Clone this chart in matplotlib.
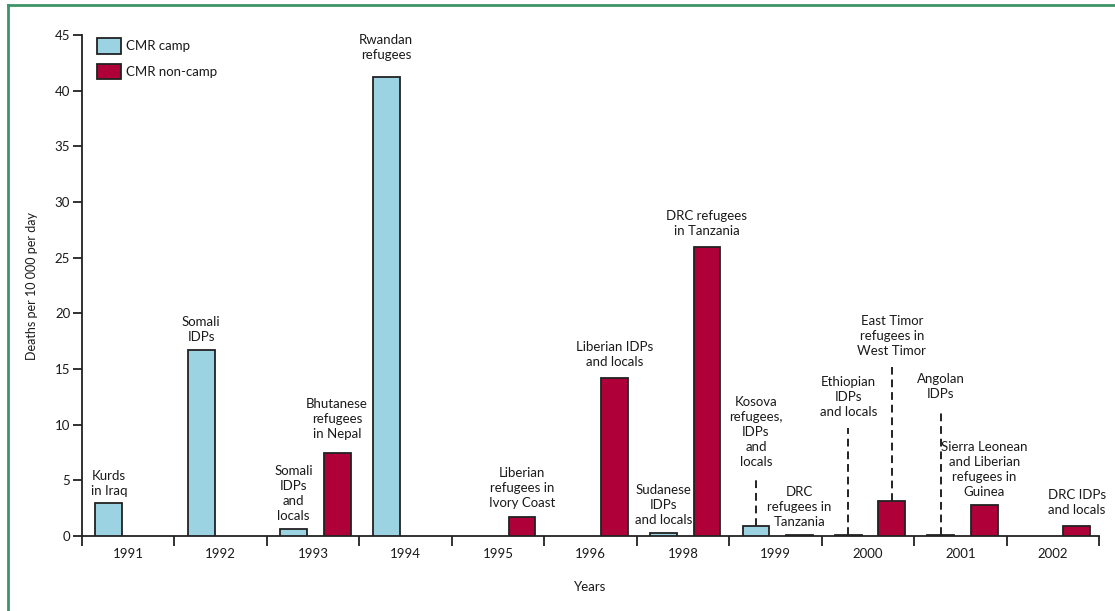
import matplotlib
matplotlib.use("Agg")
import matplotlib.pyplot as plt
from matplotlib.lines import Line2D
import numpy as np

plt.rcParams['font.family'] = ['Lato', 'DejaVu Sans']
plt.rcParams['font.size'] = 9.5

# year groups on the x axis (1997 has no survey)
years = ['1991', '1992', '1993', '1994', '1995', '1996',
         '1998', '1999', '2000', '2001', '2002']
# crude mortality rate, deaths per 10 000 per day (None = no survey)
cmr_camp = [3.0, 16.7, 0.6, 41.2, None, None, 0.3, 0.9, 0.1, 0.1, None]
cmr_noncamp = [None, None, 7.5, None, 1.7, 14.2, 26.0, 0.1, 3.1, 2.8, 0.9]

# population labels: (group, series, text, offset in points or label height)
labels = [
    (0, 'camp', 'Kurds\nin Iraq', 4, None),
    (1, 'camp', 'Somali\nIDPs', 5, None),
    (2, 'camp', 'Somali\nIDPs\nand\nlocals', 5, None),
    (2, 'non', 'Bhutanese\nrefugees\nin Nepal', 9, None),
    (3, 'camp', 'Rwandan\nrefugees', 12, None),
    (4, 'non', 'Liberian\nrefugees in\nIvory Coast', 6, None),
    (5, 'non', 'Liberian IDPs\nand locals', 7, None),
    (6, 'camp', 'Sudanese\nIDPs\nand locals', 5, None),
    (6, 'non', 'DRC refugees\nin Tanzania', 7, None),
    (7, 'camp', 'Kosova\nrefugees,\nIDPs\nand\nlocals', None, 6.1),
    (7, 'non', 'DRC\nrefugees in\nTanzania', 5, None),
    (8, 'camp', 'Ethiopian\nIDPs\nand locals', None, 10.6),
    (8, 'non', 'East Timor\nrefugees in\nWest Timor', None, 16.1),
    (9, 'camp', 'Angolan\nIDPs', None, 12.2),
    (9, 'non', 'Sierra Leonean\nand Liberian\nrefugees in\nGuinea', 5, None),
    (10, 'non', 'DRC IDPs\nand locals', 7, None),
]

camp_color = '#9bd3e3'
noncamp_color = '#b0003a'
edge = '#222222'
text_color = '#1a1a1a'

fig = plt.figure(figsize=(11.15, 6.11), dpi=100)
ax = fig.add_axes([82 / 1115, 1 - 536 / 611, 1017 / 1115, 501 / 611])

idx = np.arange(len(years))
w = 0.29
pos = {'camp': idx + 0.29, 'non': idx + 0.76}
vals = {'camp': cmr_camp, 'non': cmr_noncamp}

for key, col, name in [('camp', camp_color, 'CMR camp'),
                       ('non', noncamp_color, 'CMR non-camp')]:
    xs = [x for x, v in zip(pos[key], vals[key]) if v is not None]
    hs = [v for v in vals[key] if v is not None]
    ax.bar(xs, hs, width=w, color=col, edgecolor=edge, linewidth=1.3,
           label=name, zorder=3)

for g, key, txt, off, ly in labels:
    x = pos[key][g]
    top = vals[key][g]
    if ly is None:
        ax.annotate(txt, (x, top), xytext=(0, off), textcoords='offset points',
                    ha='center', va='bottom', linespacing=1.3,
                    color=text_color, fontsize=9.5)
    else:
        ax.text(x, ly, txt, ha='center', va='bottom', linespacing=1.3,
                color=text_color, fontsize=9.5)
        ax.plot([x, x], [top, ly - 0.9], color=edge, lw=1.4,
                linestyle=(0, (4, 2.5)), zorder=2)

ax.set_xlim(0, len(years))
ax.set_ylim(0, 45)
ax.set_yticks(np.arange(0, 46, 5))
ax.set_xticks(np.arange(0, len(years) + 1))
ax.set_xticklabels([])
ax.set_xticks(idx + 0.5, minor=True)
ax.set_xticklabels(years, minor=True)
ax.tick_params(axis='x', which='major', direction='out', length=7,
               width=1.3, color=edge)
ax.tick_params(axis='x', which='minor', length=0, pad=9, colors=text_color)
ax.tick_params(axis='y', direction='out', length=6.5, width=1.3,
               color=edge, labelcolor=text_color, pad=2)

for s in ['top', 'right']:
    ax.spines[s].set_visible(False)
for s in ['left', 'bottom']:
    ax.spines[s].set_linewidth(1.3)
    ax.spines[s].set_color(edge)

ax.set_ylabel('Deaths per 10 000 per day', fontsize=9, color=text_color,
              labelpad=12)
ax.set_xlabel('Years', fontsize=9.5, color=text_color, labelpad=15)

ax.legend(loc='upper left', bbox_to_anchor=(15 / 1017, 1 - 3 / 501),
          frameon=False, borderpad=0, borderaxespad=0, handlelength=1.8,
          handleheight=1.45, labelspacing=0.75, handletextpad=0.4,
          fontsize=9.5, labelcolor=text_color)

# green frame on the top and left edges
fig.add_artist(Line2D([8 / 1115, 1], [1 - 5 / 611, 1 - 5 / 611],
                      color='#3d9468', lw=2, transform=fig.transFigure))
fig.add_artist(Line2D([8 / 1115, 8 / 1115], [0, 1 - 5 / 611],
                      color='#3d9468', lw=2, transform=fig.transFigure))

fig.savefig('out.png', dpi=100)
